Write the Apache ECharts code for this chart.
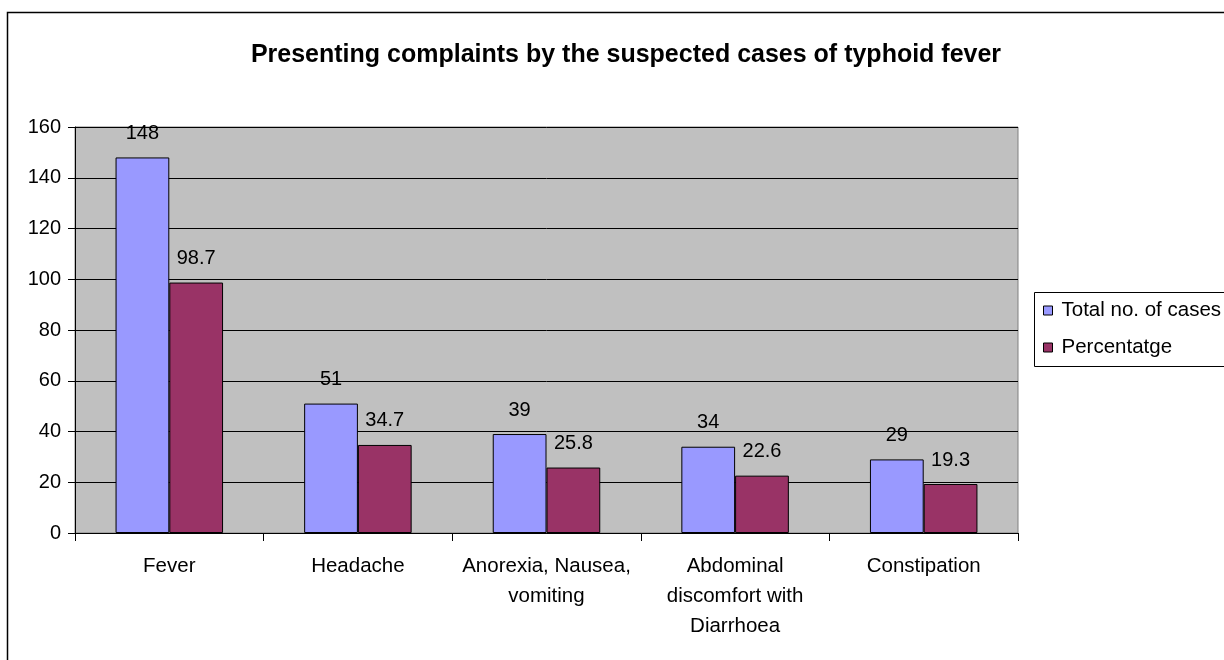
<!DOCTYPE html>
<html>
<head>
<meta charset="utf-8">
<script src="https://cdn.jsdelivr.net/npm/echarts@6/dist/echarts.min.js"></script>
<style>
html,body{margin:0;padding:0;background:#fff;}
#chart{width:1224px;height:660px;}
</style>
</head>
<body>
<div id="chart"></div>
<script>
const categories = ['Fever', 'Headache', 'Anorexia, Nausea,\nvomiting', 'Abdominal\ndiscomfort with\nDiarrhoea', 'Constipation'];
const totalCases = [148, 51, 39, 34, 29];
const percentage = [98.7, 34.7, 25.8, 22.6, 19.3];
const seriesNames = ['Total no. of cases', 'Percentatge'];
const yTicks = { min: 0, max: 160, interval: 20 };

const FONT = '"Liberation Sans", Arial, sans-serif';
const chart = echarts.init(document.getElementById('chart'), null, { renderer: 'canvas' });

chart.setOption({
  backgroundColor: '#ffffff',
  animation: false,
  title: {
    text: 'Presenting complaints by the suspected cases of typhoid fever',
    left: 621, top: 38, textAlign: 'center',
    textStyle: { fontFamily: FONT, fontSize: 25, fontWeight: 'bold', color: '#000' }
  },
  graphic: [
    { type: 'rect', shape: { x: 7.5, y: 12.5, width: 1240, height: 680 }, style: { fill: 'none', stroke: '#000', lineWidth: 1.5 }, z: -1 },
    { type: 'rect', shape: { x: 1034.5, y: 292.5, width: 220, height: 74 }, style: { fill: '#fff', stroke: '#000', lineWidth: 1 }, z: 0 }
  ],
  legend: {
    left: 1043, top: 300,
    orient: 'vertical',
    itemGap: 16,
    itemWidth: 9, itemHeight: 9,
    icon: 'rect',
    padding: 0,
    itemStyle: { borderColor: '#000', borderWidth: 1 },
    textStyle: { fontFamily: FONT, fontSize: 20.5, color: '#000', padding: [0, 0, 0, 4] },
    data: seriesNames,
    z: 5
  },
  grid: {
    left: 75, top: 127, width: 943, height: 406,
    show: true, backgroundColor: '#C0C0C0', borderColor: '#808080', borderWidth: 1,
    containLabel: false
  },
  xAxis: {
    type: 'category',
    data: categories,
    axisLine: { lineStyle: { color: '#000', width: 1 } },
    axisTick: { show: true, length: 8, lineStyle: { color: '#000' }, alignWithLabel: false },
    axisLabel: { fontFamily: FONT, fontSize: 20.5, color: '#000', lineHeight: 30, margin: 18, interval: 0, align: 'center' }
  },
  yAxis: {
    type: 'value',
    min: yTicks.min, max: yTicks.max, interval: yTicks.interval,
    axisLine: { show: true, lineStyle: { color: '#000', width: 1 } },
    axisTick: { show: true, length: 7, lineStyle: { color: '#000' } },
    splitLine: { show: true, lineStyle: { color: '#000', width: 1 } },
    axisLabel: { fontFamily: FONT, fontSize: 20, color: '#000', margin: 14 }
  },
  series: [
    {
      name: seriesNames[0], type: 'bar', data: totalCases,
      barGap: '0%', barCategoryGap: '43%',
      itemStyle: { color: '#9999FF', borderColor: '#000', borderWidth: 1 },
      label: { show: true, position: 'top', distance: 14, fontFamily: FONT, fontSize: 20, color: '#000' }
    },
    {
      name: seriesNames[1], type: 'bar', data: percentage,
      barGap: '0%', barCategoryGap: '43%',
      itemStyle: { color: '#993366', borderColor: '#000', borderWidth: 1 },
      label: { show: true, position: 'top', distance: 14, fontFamily: FONT, fontSize: 20, color: '#000' }
    }
  ]
});
</script>
</body>
</html>
